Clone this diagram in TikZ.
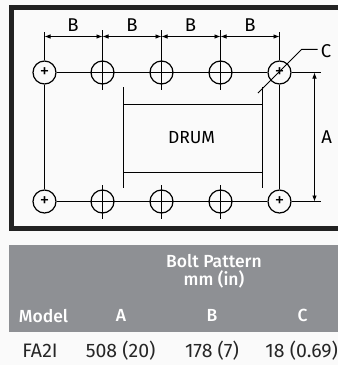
\documentclass[tikz,border=0pt]{standalone}
\usepackage{fontspec}
\setmainfont{Fira Sans}
\newfontfamily\labfont{Fira Sans Medium}
\usetikzlibrary{arrows.meta}
\definecolor{hdgray}{HTML}{8E9094}
\definecolor{framek}{HTML}{222222}
\tikzstyle{cbolt}=[circle, draw, line width=1.2pt, inner sep=0pt, minimum size=23pt, font=\fontsize{19}{19}\selectfont]
\tikzstyle{ldim}=[font=\fontsize{18.5}{18.5}\selectfont, inner sep=0pt]
\tikzstyle{lhead}=[text=white, font=\fontsize{17.5}{17.5}\selectfont\labfont, inner sep=0pt]
\tikzstyle{lrow}=[text=black!85, font=\fontsize{19.5}{19.5}\selectfont, inner sep=0pt]
\tikzstyle{dimline}=[line width=0.8pt, {Latex[length=6pt,width=4.5pt]}-{Latex[length=6pt,width=4.5pt]}]

\begin{document}
\begin{tikzpicture}[x=1pt, y=-1pt, line width=1.1pt]

\useasboundingbox (0,0) rectangle (338,365);
\fill[white!98!black] (0,0) rectangle (338,365);

\draw[framek, line width=5pt] (338,7.5) -- (11.5,7.5) -- (11.5,228.5) -- (338,228.5);

\node[cbolt] (h1) at (44.5,72.5) {+};
\node[cbolt] (h2) at (102.5,72.5) {};
\node[cbolt] (h3) at (161.5,72.5) {};
\node[cbolt] (h4) at (220.5,72.5) {};
\node[cbolt] (h5) at (279.5,72.5) {+};

\node[cbolt] (k1) at (44.5,201.5) {+};
\node[cbolt] (k2) at (102.5,201.5) {};
\node[cbolt] (k3) at (161.5,201.5) {};
\node[cbolt] (k4) at (220.5,201.5) {};
\node[cbolt] (k5) at (279.5,201.5) {+};

\coordinate (t1) at (44.5,32);
\coordinate (t2) at (102.5,30);
\coordinate (t3) at (161.5,30);
\coordinate (t4) at (220.5,30);
\coordinate (t5) at (279.5,32);
\coordinate (u2) at (102.5,90);
\coordinate (u3) at (161.5,90);
\coordinate (u4) at (220.5,90);
\coordinate (v2) at (102.5,185);
\coordinate (v3) at (161.5,185);
\coordinate (v4) at (220.5,185);
\coordinate (w2) at (102.5,219);
\coordinate (w3) at (161.5,219);
\coordinate (w4) at (220.5,219);
\coordinate (r1) at (320.7,72.5);
\coordinate (r2) at (320.7,201.5);

\draw (h1) -- (h2.center) -- (h3.center) -- (h4.center) -- (h5);
\draw (h5) -- (r1);
\draw (k1) -- (k2.center) -- (k3.center) -- (k4.center) -- (k5);
\draw (k5) -- (r2);

\draw (t1) -- (h1);
\draw (h1) -- (k1);
\draw (t5) -- (h5);
\draw (h5) -- (k5);
\draw (t2) -- (u2);
\draw (t3) -- (u3);
\draw (t4) -- (u4);
\draw (v2) -- (w2);
\draw (v3) -- (w3);
\draw (v4) -- (w4);

\coordinate (a1) at (44.5,36.5);
\coordinate (a2) at (102.5,36.5);
\coordinate (a3) at (161.5,36.5);
\coordinate (a4) at (220.5,36.5);
\coordinate (a5) at (279.5,36.5);
\draw[dimline] (a1) -- (a2);
\draw[dimline] (a2) -- (a3);
\draw[dimline] (a3) -- (a4);
\draw[dimline] (a4) -- (a5);
\node[ldim] (b1) at (73,25) {B};
\node[ldim] (b2) at (132,25) {B};
\node[ldim] (b3) at (190.5,25) {B};
\node[ldim] (b4) at (250,25) {B};

\coordinate (s1) at (314.5,72.5);
\coordinate (s2) at (314.5,201.5);
\draw[dimline] (s1) -- (s2);
\node[ldim] (la) at (326.7,137) {A};

\coordinate (c1) at (258,93);
\coordinate (c2) at (301.7,49.3);
\coordinate (c3) at (317.7,49.3);
\draw[line width=1pt] (c1) -- (c2) -- (c3);
\node[ldim] (lc) at (326,51) {C};

\coordinate (d1) at (123.5,87);
\coordinate (d2) at (123.5,187.7);
\coordinate (d3) at (262.5,87);
\coordinate (d4) at (262.5,187.7);
\coordinate (d5) at (123.5,104.5);
\coordinate (d6) at (262.5,104.5);
\coordinate (d7) at (123.5,172.5);
\coordinate (d8) at (262.5,172.5);
\draw (d1) -- (d2);
\draw (d3) -- (d4);
\draw (d5) -- (d6);
\draw (d7) -- (d8);
\node[ldim, font=\fontsize{17.5}{17.5}\selectfont] (drum) at (191.5,138) {DRUM};

\fill[hdgray] (9,245) rectangle (338,331.7);
\node[lhead] (bp) at (214,260.7) {Bolt Pattern};
\node[lhead] (mm) at (214,279) {mm (in)};
\node[lhead] (hm) at (43.5,315.7) {Model};
\node[lhead] (ha) at (121,315.7) {A};
\node[lhead] (hb) at (212,315.7) {B};
\node[lhead] (hc) at (302.7,315.7) {C};

\node[lrow] (n1) at (40,350.7) {FA2I};
\node[lrow] (n2) at (120.7,350.7) {508 (20)};
\node[lrow] (n3) at (212,350.7) {178 (7)};
\node[lrow] (n4) at (301.7,350.7) {18 (0.69)};

\end{tikzpicture}
\end{document}
